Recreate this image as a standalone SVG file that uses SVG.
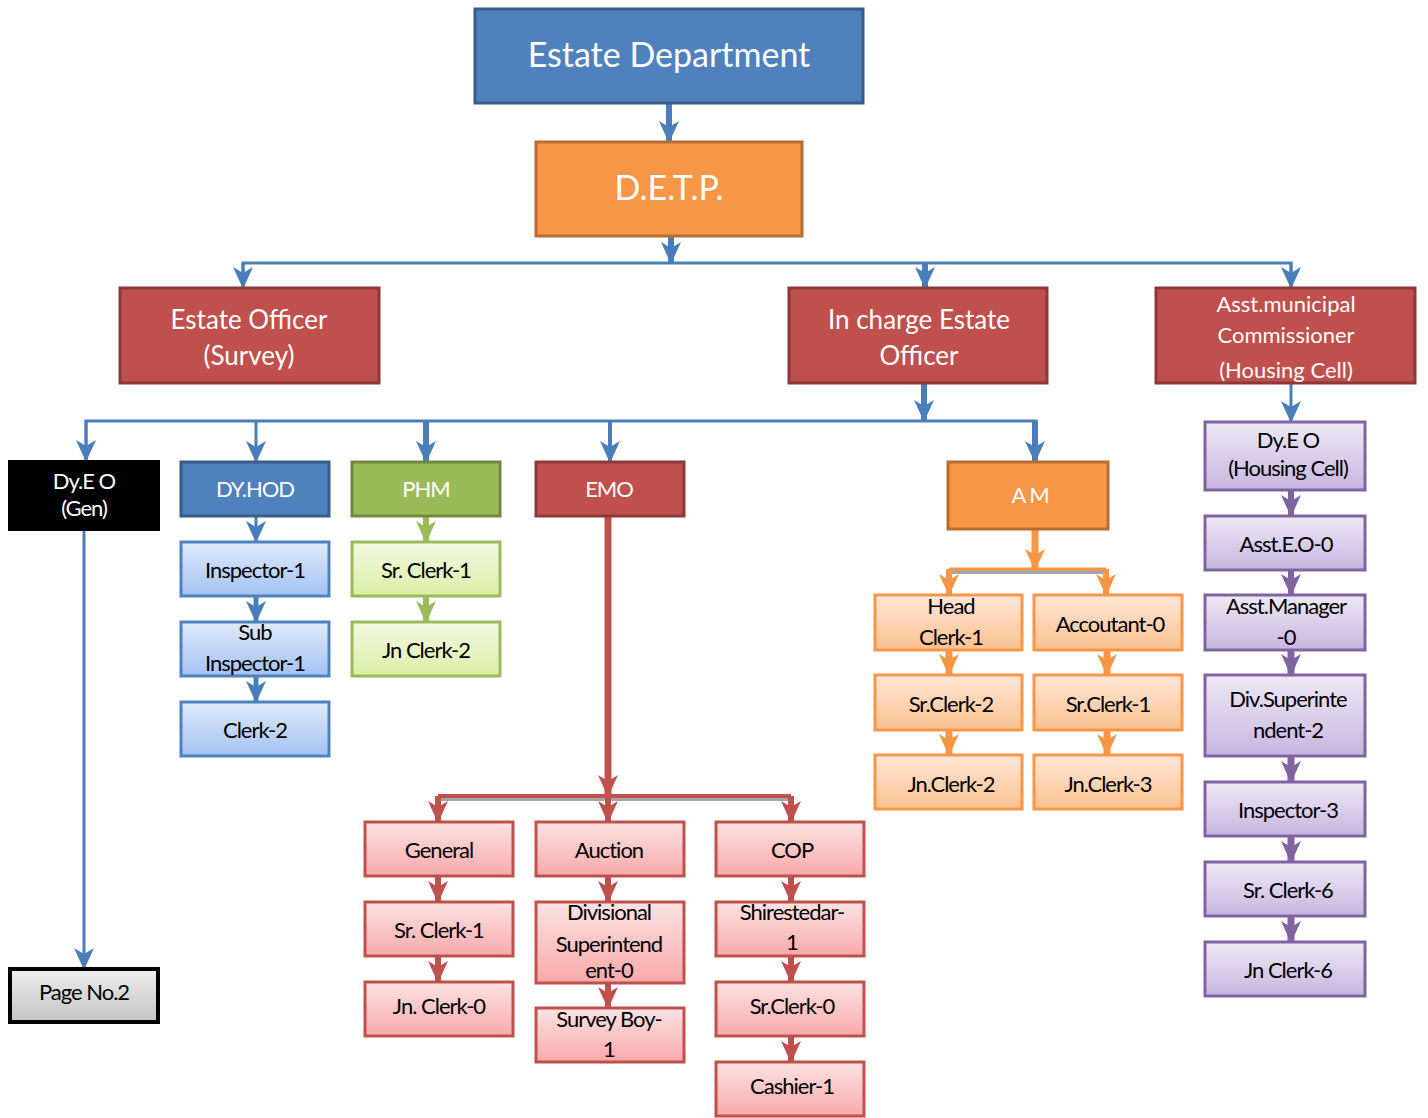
<svg xmlns="http://www.w3.org/2000/svg" width="1428" height="1118" viewBox="0 0 1428 1118">
<style>
text{font-family:Lato,"Liberation Sans",sans-serif;text-anchor:middle;letter-spacing:-1px}
.w{fill:#fff}
.k{fill:#000}
.big{font-size:34px;letter-spacing:0}
.mid{font-size:26px;letter-spacing:0}
.sm{font-size:22px}
.blue{fill:#4F81BD;stroke:#385D8A;stroke-width:3}
.orange{fill:#F79646;stroke:#B66D31;stroke-width:3}
.red{fill:#C0504D;stroke:#8C3836;stroke-width:3}
.green{fill:#9BBB59;stroke:#71893F;stroke-width:3}
.blk{fill:#000;stroke:#000;stroke-width:2}
.lb{fill:url(#gb);stroke:#4F81BD;stroke-width:3}
.lg{fill:url(#gg);stroke:#9BBB59;stroke-width:3}
.lr{fill:url(#gr);stroke:#C0504D;stroke-width:3}
.lo{fill:url(#go);stroke:#F79646;stroke-width:3}
.lp{fill:url(#gp);stroke:#8064A2;stroke-width:3}
.gy{fill:url(#gy);stroke:#000;stroke-width:4}
.cb{stroke:#4A7EBB;fill:none}
.cr{stroke:#C0504D;fill:none}
.co{stroke:#F79646;fill:none}
.cp{stroke:#8064A2;fill:none}
.cg{stroke:#9BBB59;fill:none}
.sh{stroke:#A6A6A6;fill:none;stroke-width:4}
</style>
<defs>
<linearGradient id="gb" x1="0" y1="0" x2="0" y2="1"><stop offset="0" stop-color="#E1EAF9"/><stop offset="1" stop-color="#A3C2F4"/></linearGradient>
<linearGradient id="gg" x1="0" y1="0" x2="0" y2="1"><stop offset="0" stop-color="#F3F9E2"/><stop offset="1" stop-color="#D9EFA8"/></linearGradient>
<linearGradient id="gr" x1="0" y1="0" x2="0" y2="1"><stop offset="0" stop-color="#FCE3E3"/><stop offset="1" stop-color="#F8A9A9"/></linearGradient>
<linearGradient id="go" x1="0" y1="0" x2="0" y2="1"><stop offset="0" stop-color="#FEE8DA"/><stop offset="1" stop-color="#FBC08F"/></linearGradient>
<linearGradient id="gp" x1="0" y1="0" x2="0" y2="1"><stop offset="0" stop-color="#EEE9F5"/><stop offset="1" stop-color="#C7B6E1"/></linearGradient>
<linearGradient id="gy" x1="0" y1="0" x2="0" y2="1"><stop offset="0" stop-color="#EDEDED"/><stop offset="1" stop-color="#C4C4C4"/></linearGradient>
<marker id="ab" markerUnits="userSpaceOnUse" markerWidth="22" markerHeight="22" viewBox="0 0 22 22" refX="20" refY="11" orient="auto"><path d="M0,1 L22,11 L0,21 L6,11 Z" fill="#4A7EBB"/></marker>
<marker id="ar" markerUnits="userSpaceOnUse" markerWidth="22" markerHeight="22" viewBox="0 0 22 22" refX="20" refY="11" orient="auto"><path d="M0,1 L22,11 L0,21 L6,11 Z" fill="#C0504D"/></marker>
<marker id="ao" markerUnits="userSpaceOnUse" markerWidth="22" markerHeight="22" viewBox="0 0 22 22" refX="20" refY="11" orient="auto"><path d="M0,1 L22,11 L0,21 L6,11 Z" fill="#F79646"/></marker>
<marker id="ap" markerUnits="userSpaceOnUse" markerWidth="22" markerHeight="22" viewBox="0 0 22 22" refX="20" refY="11" orient="auto"><path d="M0,1 L22,11 L0,21 L6,11 Z" fill="#8064A2"/></marker>
<marker id="ag" markerUnits="userSpaceOnUse" markerWidth="22" markerHeight="22" viewBox="0 0 22 22" refX="20" refY="11" orient="auto"><path d="M0,1 L22,11 L0,21 L6,11 Z" fill="#9BBB59"/></marker>
</defs>

<g id="connectors">
  <!-- top -->
  <line class="cb" x1="669" y1="103" x2="669" y2="141" stroke-width="6" marker-end="url(#ab)"/>
  <line class="cb" x1="671" y1="236" x2="671" y2="262" stroke-width="6" marker-end="url(#ab)"/>
  <polyline class="cb" points="243,288 243,263 1291,263 1291,288" stroke-width="3"/>
  <line class="cb" x1="243" y1="263" x2="243" y2="287" stroke-width="3" marker-end="url(#ab)"/>
  <line class="cb" x1="925" y1="263" x2="925" y2="287" stroke-width="6" marker-end="url(#ab)"/>
  <line class="cb" x1="1291" y1="263" x2="1291" y2="287" stroke-width="3" marker-end="url(#ab)"/>
  <!-- in charge to second tier -->
  <line class="cb" x1="924" y1="383" x2="924" y2="420" stroke-width="6" marker-end="url(#ab)"/>
  <polyline class="cb" points="86,461 86,421 1036,421 1036,461" stroke-width="3"/>
  <line class="cb" x1="86" y1="421" x2="86" y2="460" stroke-width="3" marker-end="url(#ab)"/>
  <line class="cb" x1="256" y1="421" x2="256" y2="461" stroke-width="3" marker-end="url(#ab)"/>
  <line class="cb" x1="426" y1="421" x2="426" y2="461" stroke-width="6" marker-end="url(#ab)"/>
  <line class="cb" x1="610" y1="421" x2="610" y2="461" stroke-width="4" marker-end="url(#ab)"/>
  <line class="cb" x1="1035" y1="421" x2="1035" y2="461" stroke-width="6" marker-end="url(#ab)"/>
  <!-- Dy.E.O gen to page 2 -->
  <line class="cb" x1="84" y1="530" x2="84" y2="968" stroke-width="3" marker-end="url(#ab)"/>
  <!-- DY.HOD column -->
  <line class="cb" x1="256" y1="516" x2="256" y2="541" stroke-width="3" marker-end="url(#ab)"/>
  <line class="cb" x1="256" y1="596" x2="256" y2="621" stroke-width="5" marker-end="url(#ab)"/>
  <line class="cb" x1="256" y1="672" x2="256" y2="701" stroke-width="5" marker-end="url(#ab)"/>
  <!-- PHM column -->
  <line class="cg" x1="426" y1="516" x2="426" y2="541" stroke-width="6" marker-end="url(#ag)"/>
  <line class="cg" x1="426" y1="596" x2="426" y2="621" stroke-width="6" marker-end="url(#ag)"/>
  <!-- EMO -->
  <line class="cr" x1="608" y1="516" x2="608" y2="795" stroke-width="7" marker-end="url(#ar)"/>
  <line class="sh" x1="438" y1="799" x2="791" y2="799"/>
  <line class="cr" x1="438" y1="796" x2="791" y2="796" stroke-width="4"/>
  <line class="cr" x1="438" y1="796" x2="438" y2="821" stroke-width="6" marker-end="url(#ar)"/>
  <line class="cr" x1="608" y1="796" x2="608" y2="821" stroke-width="6" marker-end="url(#ar)"/>
  <line class="cr" x1="791" y1="796" x2="791" y2="821" stroke-width="6" marker-end="url(#ar)"/>
  <line class="cr" x1="438" y1="876" x2="438" y2="901" stroke-width="6" marker-end="url(#ar)"/>
  <line class="cr" x1="438" y1="956" x2="438" y2="981" stroke-width="6" marker-end="url(#ar)"/>
  <line class="cr" x1="608" y1="876" x2="608" y2="901" stroke-width="6" marker-end="url(#ar)"/>
  <line class="cr" x1="608" y1="978" x2="608" y2="1007" stroke-width="6" marker-end="url(#ar)"/>
  <line class="cr" x1="791" y1="876" x2="791" y2="901" stroke-width="6" marker-end="url(#ar)"/>
  <line class="cr" x1="791" y1="950" x2="791" y2="981" stroke-width="6" marker-end="url(#ar)"/>
  <line class="cr" x1="791" y1="1030" x2="791" y2="1061" stroke-width="6" marker-end="url(#ar)"/>
  <!-- A M -->
  <line class="co" x1="1035" y1="529" x2="1035" y2="569" stroke-width="7" marker-end="url(#ao)"/>
  <line class="sh" x1="949" y1="572" x2="1106" y2="572"/>
  <line class="co" x1="949" y1="569" x2="1106" y2="569" stroke-width="3"/>
  <line class="co" x1="949" y1="569" x2="949" y2="594" stroke-width="6" marker-end="url(#ao)"/>
  <line class="co" x1="1106" y1="569" x2="1106" y2="594" stroke-width="6" marker-end="url(#ao)"/>
  <line class="co" x1="949" y1="650" x2="949" y2="674" stroke-width="7" marker-end="url(#ao)"/>
  <line class="co" x1="949" y1="730" x2="949" y2="754" stroke-width="7" marker-end="url(#ao)"/>
  <line class="co" x1="1107" y1="650" x2="1107" y2="674" stroke-width="7" marker-end="url(#ao)"/>
  <line class="co" x1="1107" y1="730" x2="1107" y2="754" stroke-width="7" marker-end="url(#ao)"/>
  <!-- housing cell -->
  <line class="cb" x1="1291" y1="383" x2="1291" y2="421" stroke-width="3" marker-end="url(#ab)"/>
  <line class="cp" x1="1291" y1="490" x2="1291" y2="515" stroke-width="6" marker-end="url(#ap)"/>
  <line class="cp" x1="1291" y1="570" x2="1291" y2="594" stroke-width="6" marker-end="url(#ap)"/>
  <line class="cp" x1="1291" y1="650" x2="1291" y2="674" stroke-width="7" marker-end="url(#ap)"/>
  <line class="cp" x1="1291" y1="756" x2="1291" y2="781" stroke-width="7" marker-end="url(#ap)"/>
  <line class="cp" x1="1291" y1="836" x2="1291" y2="861" stroke-width="7" marker-end="url(#ap)"/>
  <line class="cp" x1="1291" y1="916" x2="1291" y2="941" stroke-width="7" marker-end="url(#ap)"/>
</g>

<g id="estate-department"><rect class="blue" x="475" y="9" width="388" height="94"/><text class="w big" x="669" y="67">Estate Department</text></g>
<g id="detp"><rect class="orange" x="536" y="142" width="266" height="94"/><text class="w big" x="669" y="200">D.E.T.P.</text></g>

<g id="estate-officer-survey"><rect class="red" x="120" y="288" width="259" height="95"/><text class="w mid" x="249" y="329">Estate Officer</text><text class="w mid" x="249" y="365">(Survey)</text></g>
<g id="incharge-estate-officer"><rect class="red" x="789" y="288" width="258" height="95"/><text class="w mid" x="919" y="329">In charge Estate</text><text class="w mid" x="919" y="365">Officer</text></g>
<g id="asst-municipal-commissioner"><rect class="red" x="1156" y="288" width="259" height="95"/><text class="w sm" x="1286" y="312" style="letter-spacing:0">Asst.municipal</text><text class="w sm" x="1286" y="343" style="letter-spacing:0">Commissioner</text><text class="w sm" x="1286" y="378" style="letter-spacing:0">(Housing Cell)</text></g>

<g id="dyeo-gen"><rect class="blk" x="9" y="461" width="150" height="69"/><text class="w sm" x="84" y="489">Dy.E O</text><text class="w sm" x="84" y="516">(Gen)</text></g>
<g id="page-no-2"><rect class="gy" x="10" y="969" width="148" height="53"/><text class="k sm" x="84" y="1000">Page No.2</text></g>

<g id="dy-hod"><rect class="blue" x="181" y="462" width="148" height="54"/><text class="w sm" x="255" y="497">DY.HOD</text></g>
<g id="inspector-1"><rect class="lb" x="181" y="542" width="148" height="54"/><text class="k sm" x="255" y="578">Inspector-1</text></g>
<g id="sub-inspector-1"><rect class="lb" x="181" y="622" width="148" height="54"/><text class="k sm" x="255" y="640">Sub</text><text class="k sm" x="255" y="671">Inspector-1</text></g>
<g id="clerk-2"><rect class="lb" x="181" y="702" width="148" height="54"/><text class="k sm" x="255" y="738">Clerk-2</text></g>

<g id="phm"><rect class="green" x="352" y="462" width="148" height="54"/><text class="w sm" x="426" y="497">PHM</text></g>
<g id="phm-sr-clerk-1"><rect class="lg" x="352" y="542" width="148" height="54"/><text class="k sm" x="426" y="578">Sr. Clerk-1</text></g>
<g id="phm-jn-clerk-2"><rect class="lg" x="352" y="622" width="148" height="54"/><text class="k sm" x="426" y="658">Jn Clerk-2</text></g>

<g id="emo"><rect class="red" x="536" y="462" width="148" height="54"/><text class="w sm" x="609" y="497">EMO</text></g>
<g id="general"><rect class="lr" x="365" y="822" width="148" height="54"/><text class="k sm" x="439" y="858">General</text></g>
<g id="gen-sr-clerk-1"><rect class="lr" x="365" y="902" width="148" height="54"/><text class="k sm" x="439" y="938">Sr. Clerk-1</text></g>
<g id="gen-jn-clerk-0"><rect class="lr" x="365" y="982" width="148" height="54"/><text class="k sm" x="439" y="1014">Jn. Clerk-0</text></g>
<g id="auction"><rect class="lr" x="536" y="822" width="148" height="54"/><text class="k sm" x="609" y="858">Auction</text></g>
<g id="divisional-superintendent-0"><rect class="lr" x="536" y="902" width="148" height="81"/><text class="k sm" x="609" y="920">Divisional</text><text class="k sm" x="609" y="952">Superintend</text><text class="k sm" x="609" y="978">ent-0</text></g>
<g id="survey-boy-1"><rect class="lr" x="536" y="1008" width="148" height="54"/><text class="k sm" x="609" y="1027">Survey Boy-</text><text class="k sm" x="609" y="1057">1</text></g>
<g id="cop"><rect class="lr" x="716" y="822" width="148" height="54"/><text class="k sm" x="792" y="858">COP</text></g>
<g id="shirestedar-1"><rect class="lr" x="716" y="902" width="148" height="54"/><text class="k sm" x="792" y="920">Shirestedar-</text><text class="k sm" x="792" y="950">1</text></g>
<g id="cop-sr-clerk-0"><rect class="lr" x="716" y="982" width="148" height="54"/><text class="k sm" x="792" y="1014">Sr.Clerk-0</text></g>
<g id="cashier-1"><rect class="lr" x="716" y="1062" width="148" height="54"/><text class="k sm" x="792" y="1094">Cashier-1</text></g>

<g id="am"><rect class="orange" x="948" y="462" width="160" height="67"/><text class="w sm" x="1030" y="503">A M</text></g>
<g id="head-clerk-1"><rect class="lo" x="875" y="595" width="147" height="55"/><text class="k sm" x="951" y="614">Head</text><text class="k sm" x="951" y="645">Clerk-1</text></g>
<g id="accoutant-0"><rect class="lo" x="1034" y="595" width="148" height="55"/><text class="k sm" x="1110" y="632">Accoutant-0</text></g>
<g id="am-sr-clerk-2"><rect class="lo" x="875" y="675" width="147" height="55"/><text class="k sm" x="951" y="712">Sr.Clerk-2</text></g>
<g id="am-sr-clerk-1"><rect class="lo" x="1034" y="675" width="148" height="55"/><text class="k sm" x="1108" y="712">Sr.Clerk-1</text></g>
<g id="am-jn-clerk-2"><rect class="lo" x="875" y="755" width="147" height="54"/><text class="k sm" x="951" y="792">Jn.Clerk-2</text></g>
<g id="am-jn-clerk-3"><rect class="lo" x="1034" y="755" width="148" height="54"/><text class="k sm" x="1108" y="792">Jn.Clerk-3</text></g>

<g id="dyeo-housing"><rect class="lp" x="1205" y="422" width="160" height="68"/><text class="k sm" x="1288" y="448">Dy.E O</text><text class="k sm" x="1288" y="476">(Housing Cell)</text></g>
<g id="asst-eo-0"><rect class="lp" x="1205" y="516" width="160" height="54"/><text class="k sm" x="1286" y="552">Asst.E.O-0</text></g>
<g id="asst-manager-0"><rect class="lp" x="1205" y="595" width="160" height="55"/><text class="k sm" x="1286" y="614">Asst.Manager</text><text class="k sm" x="1286" y="645">-0</text></g>
<g id="div-superintendent-2"><rect class="lp" x="1205" y="675" width="160" height="81"/><text class="k sm" x="1288" y="707">Div.Superinte</text><text class="k sm" x="1288" y="738">ndent-2</text></g>
<g id="inspector-3"><rect class="lp" x="1205" y="782" width="160" height="54"/><text class="k sm" x="1288" y="818">Inspector-3</text></g>
<g id="hc-sr-clerk-6"><rect class="lp" x="1205" y="862" width="160" height="54"/><text class="k sm" x="1288" y="898">Sr. Clerk-6</text></g>
<g id="hc-jn-clerk-6"><rect class="lp" x="1205" y="942" width="160" height="54"/><text class="k sm" x="1288" y="978">Jn Clerk-6</text></g>
</svg>
